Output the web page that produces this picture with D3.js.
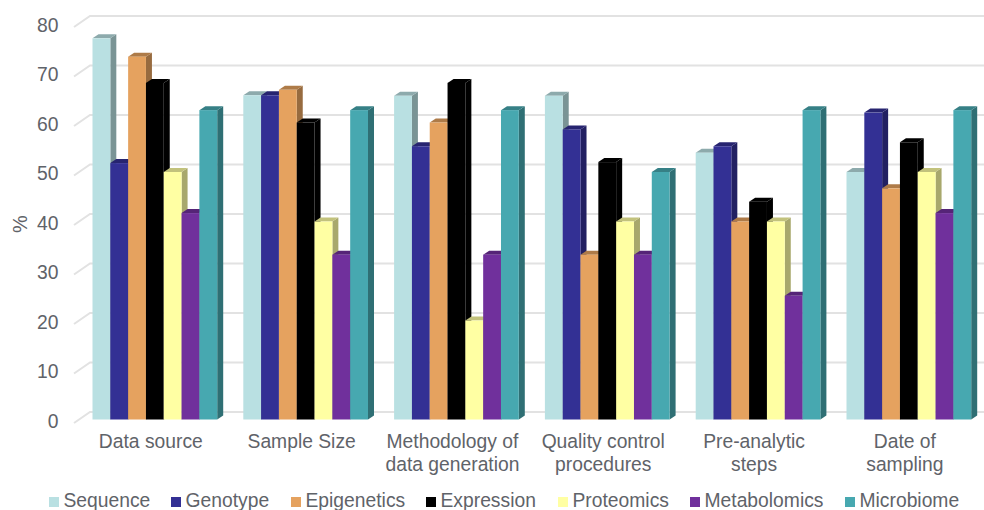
<!DOCTYPE html>
<html>
<head>
<meta charset="utf-8">
<script src="https://cdn.jsdelivr.net/npm/d3@7"></script>
<style>
html, body { margin: 0; padding: 0; background: #fff; }
svg { display: block; }
text { font-family: "Liberation Sans", Arial, sans-serif; fill: #5f6369; }
</style>
</head>
<body>
<svg id="chart" width="984" height="510"></svg>
<script>
const categories = [
  ["Data source"],
  ["Sample Size"],
  ["Methodology of", "data generation"],
  ["Quality control", "procedures"],
  ["Pre-analytic", "steps"],
  ["Date of", "sampling"]
];
const seriesNames = ["Sequence", "Genotype", "Epigenetics", "Expression", "Proteomics", "Metabolomics", "Microbiome"];
const seriesColors = ["#b9e0e2", "#333094", "#e5a25f", "#000000", "#ffffa3", "#70309c", "#47a8b0"];
const sequence = [77, 65.5, 65.4, 65.4, 53.9, 50];
const genotype = [51.8, 65.5, 55.2, 58.6, 55.2, 62];
const epigenetics = [73.3, 66.6, 60, 33.3, 40, 46.7];
const expression = [68, 60, 68, 52, 44, 56];
const proteomics = [50, 40, 20, 40, 40, 50];
const metabolomics = [41.7, 33.3, 33.3, 33.3, 25, 41.7];
const microbiome = [62.5, 62.5, 62.5, 50, 62.5, 62.5];
const seriesValues = [sequence, genotype, epigenetics, expression, proteomics, metabolomics, microbiome];
const yTicks = [0, 10, 20, 30, 40, 50, 60, 70, 80];
const legendX = [49, 171, 291, 426, 558, 690, 845];

const svg = d3.select("#chart");

// Oblique offset between the front plane and the back wall of the 3-D plot
const depthX = 6, depthY = 4;
const wallDX = 16, wallDY = 11;

const y = d3.scaleLinear().domain([0, 80]).range([419.5, 23.5]);
const bandPad = 29;
const x0 = d3.scaleBand().domain(d3.range(categories.length))
  .range([92.5 - bandPad, 92.5 - bandPad + 150.8 * 6]);
const x1 = d3.scaleBand().domain(d3.range(seriesNames.length))
  .range([0, x0.bandwidth() - bandPad * 0.9]);

// Back-wall gridlines with their slanted return towards the value labels
const grid = svg.append("g").attr("fill", "none").attr("stroke", "#e2e2e2").attr("stroke-width", 2);
yTicks.forEach(t => {
  const front = y(t) + 3.5;
  grid.append("path").attr("d", d3.line()([
    [74, front], [74 + wallDX, front - wallDY], [984, front - wallDY]
  ]));
});

// Value axis labels
const yAxis = svg.append("g");
yTicks.forEach(t => {
  yAxis.append("text")
    .attr("x", 58.5).attr("y", y(t) + 8)
    .attr("text-anchor", "end").attr("font-size", 19.3).text(t);
});
svg.append("text")
  .attr("transform", "translate(27,224) rotate(-90)")
  .attr("text-anchor", "middle").attr("font-size", 20).text("%");

const shade = (color, k) => {
  const c = d3.rgb(color);
  return d3.rgb(c.r * k, c.g * k, c.b * k).formatHex();
};

// Each cuboid is painted left to right so the next front face hides the previous side face
const bars = svg.append("g");
categories.forEach((_, c) => {
  seriesNames.forEach((_, s) => {
    const color = seriesColors[s];
    const xl = x0(c) + bandPad + x1(s);
    const xr = xl + x1.bandwidth();
    const top = y(seriesValues[s][c]);
    const base = y(0);
    const g = bars.append("g");
    g.append("path").attr("fill", shade(color, 0.66)).attr("d", d3.line()([
      [xr, top], [xr + depthX, top - depthY], [xr + depthX, base - depthY], [xr, base]
    ]) + "Z");
    g.append("path").attr("fill", shade(color, 0.76)).attr("d", d3.line()([
      [xl, top], [xl + depthX, top - depthY], [xr + depthX, top - depthY], [xr, top]
    ]) + "Z");
    g.append("rect").attr("x", xl).attr("y", top)
      .attr("width", x1.bandwidth()).attr("height", base - top).attr("fill", color);
  });
});

// Category labels, wrapped on two lines where needed
categories.forEach((lines, c) => {
  const cx = x0(c) + bandPad + x1.step() * seriesNames.length / 2 - 4;
  lines.forEach((line, i) => {
    svg.append("text")
      .attr("x", cx).attr("y", 448 + i * 22.5)
      .attr("text-anchor", "middle").attr("font-size", 19.3).text(line);
  });
});

// Legend along the bottom edge
seriesNames.forEach((name, i) => {
  svg.append("rect").attr("x", legendX[i]).attr("y", 497)
    .attr("width", 10).attr("height", 10).attr("fill", seriesColors[i]);
  svg.append("text").attr("x", legendX[i] + 14.5).attr("y", 507)
    .attr("font-size", 19.3).text(name);
});
</script>
</body>
</html>
